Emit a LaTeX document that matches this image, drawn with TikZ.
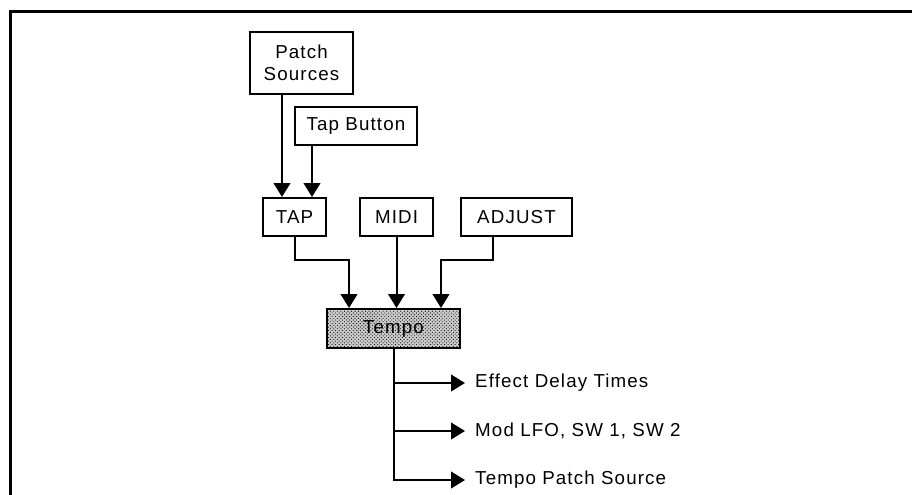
\documentclass[tikz,border=0pt]{standalone}
\usepackage{fontspec}
\setmainfont{Liberation Sans}[LetterSpace=6]
\usetikzlibrary{arrows.meta,patterns,calc}
\tikzset{
  box/.style={draw,line width=0.6mm,inner sep=0pt,font=\fontsize{16}{19}\selectfont,align=center},
  outlbl/.style={anchor=west,inner sep=0pt,inner xsep=3mm,font=\fontsize{16}{19}\selectfont},
  conn/.style={line width=0.6mm,->}
}
\begin{document}
\begin{tikzpicture}[>={Triangle[length=4.2mm,width=5mm]},x=0.3mm,y=-0.3mm]
 \useasboundingbox (0,0) rectangle (912,494);
 % frame
 \draw[line width=0.9mm] (10,500) -- (10,12) -- (920,12);
 % inputs
 \node[box,minimum width=30.9mm,minimum height=18.6mm] (ps) at (301.5,63) {Patch\\Sources};
 \node[box,minimum width=36.6mm,minimum height=11.4mm] (tb) at (356,126) {Tap Button};
 \node[box,minimum width=18.9mm,minimum height=11.4mm] (tap) at (294.5,217) {TAP};
 \node[box,minimum width=21.9mm,minimum height=11.4mm] (midi) at (396.5,217) {MIDI};
 \node[box,minimum width=33.3mm,minimum height=11.4mm] (adj) at (516.5,217) {ADJUST};
 \node[box,minimum width=39.9mm,minimum height=11.7mm,fill=black!20,
   postaction={pattern=crosshatch dots}] (tempo) at (393.5,328.5) {Tempo};
 % outputs
 \node[outlbl] (o1) at (465,383) {Effect Delay Times};
 \node[outlbl] (o2) at (465,431) {Mod LFO, SW 1, SW 2};
 \node[outlbl] (o3) at (465,480) {Tempo Patch Source};
 % connectors
 \draw[conn] ($(ps.south)+(-19.5,0)$) -- ($(tap.north)+(-12.5,0)$);
 \draw[conn] ($(tb.south)+(-44,0)$) -- ($(tap.north)+(17.5,0)$);
 \draw[conn] (tap.south) -- ++(0,23) -| ($(tempo.north)+(-44.5,0)$);
 \draw[conn] (midi.south) -- (midi.south |- tempo.north);
 \draw[conn] ($(adj.south)+(-23.5,0)$) -- ++(0,23) -| ($(tempo.north)+(47.5,0)$);
 \foreach \o in {o1,o2,o3}
   \draw[conn] (tempo.south) |- (\o.west);
\end{tikzpicture}
\end{document}
